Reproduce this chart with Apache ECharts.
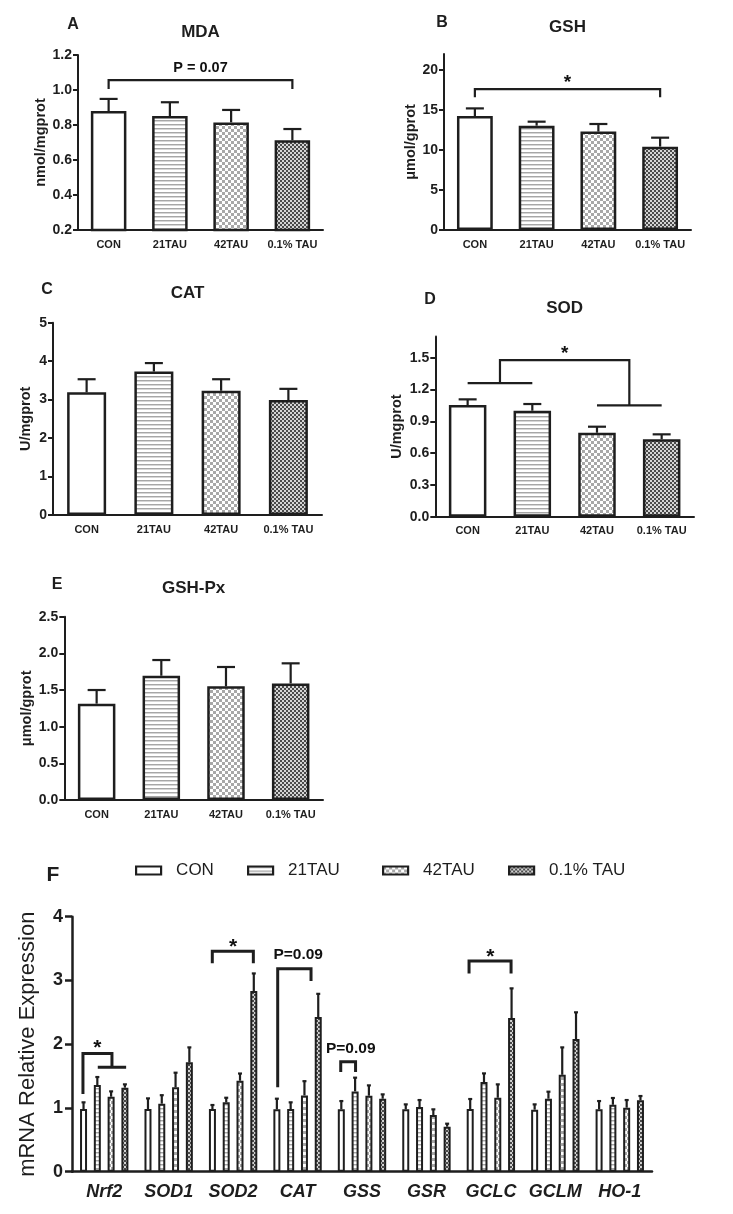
<!DOCTYPE html>
<html><head><meta charset="utf-8">
<script src="https://cdn.jsdelivr.net/npm/echarts@6/dist/echarts.min.js"></script>
<style>html,body{margin:0;padding:0;background:#fff}#c{width:733px;height:1214px}</style>
</head><body><div id="c"></div>
<script>
// ---------- data ----------
const groups = ['CON', '21TAU', '42TAU', '0.1% TAU'];

const mdaMean  = [0.880, 0.851, 0.815, 0.713];
const mdaUpper = [0.949, 0.930, 0.886, 0.777];
const gshMean  = [14.25, 13.04, 12.30, 10.42];
const gshUpper = [15.20, 13.54, 13.25, 11.54];
const catMean  = [3.19, 3.73, 3.23, 2.99];
const catUpper = [3.53, 3.95, 3.53, 3.28];
const sodMean  = [1.053, 1.000, 0.792, 0.730];
const sodUpper = [1.107, 1.063, 0.849, 0.777];
const gpxMean  = [1.314, 1.695, 1.550, 1.590];
const gpxUpper = [1.500, 1.909, 1.814, 1.864];

const genes = ['Nrf2', 'SOD1', 'SOD2', 'CAT', 'GSS', 'GSR', 'GCLC', 'GCLM', 'HO-1'];
const conMean    = [0.983, 0.983, 0.983, 0.978, 0.978, 0.978, 0.983, 0.973, 0.978];
const conUpper   = [1.088, 1.150, 1.046, 1.145, 1.108, 1.056, 1.140, 1.056, 1.108];
const tau21Mean  = [1.360, 1.067, 1.088, 0.983, 1.260, 1.014, 1.407, 1.145, 1.050];
const tau21Upper = [1.485, 1.200, 1.160, 1.088, 1.475, 1.124, 1.542, 1.255, 1.156];
const tau42Mean  = [1.176, 1.323, 1.427, 1.197, 1.192, 0.889, 1.160, 1.520, 1.004];
const tau42Upper = [1.260, 1.553, 1.540, 1.420, 1.354, 0.978, 1.370, 1.950, 1.124];
const tau01Mean  = [1.318, 1.715, 2.834, 2.426, 1.145, 0.706, 2.410, 2.080, 1.119];
const tau01Upper = [1.370, 1.950, 3.110, 2.790, 1.213, 0.753, 2.876, 2.500, 1.187];

const ticksA = [0.2, 0.4, 0.6, 0.8, 1.0, 1.2];
const ticksB = [0, 5, 10, 15, 20];
const ticksC = [0, 1, 2, 3, 4, 5];
const ticksD = [0, 0.3, 0.6, 0.9, 1.2, 1.5];
const ticksE = [0, 0.5, 1.0, 1.5, 2.0, 2.5];
const ticksF = [0, 1, 2, 3, 4];

// significance brackets (x in category index units, y in axis units)
const bracketsA = [[[0, 1.006], [0, 1.057], [3, 1.057], [3, 1.006]]];
const bracketsB = [[[0, 16.6], [0, 17.6], [3, 17.6], [3, 16.6]]];
const bracketsD = [
  [[0, 1.261], [1, 1.261]],
  [[2, 1.05], [3, 1.05]],
  [[0.5, 1.261], [0.5, 1.478], [2.5, 1.478], [2.5, 1.05]]
];
const bracketsF = [
  [[-0.33, 1.218], [-0.33, 1.856], [0.12, 1.856], [0.12, 1.637]],
  [[-0.10, 1.637], [0.34, 1.637]],
  [[1.677, 3.27], [1.677, 3.46], [2.314, 3.46], [2.314, 3.27]],
  [[2.692, 1.323], [2.692, 3.184], [3.209, 3.184], [3.209, 2.99]],
  [[3.67, 1.563], [3.67, 1.725], [3.90, 1.725], [3.90, 1.563]],
  [[5.661, 3.11], [5.661, 3.305], [6.313, 3.305], [6.313, 3.11]]
];
const notesA = [[1.5, 1.126, 'P = 0.07']];
const notesB = [[1.5, 18.96, '*']];
const notesD = [[1.5, 1.573, '*']];
const notesF = [[-0.107, 2.01, '*'], [2.0, 3.6, '*'], [3.01, 3.40, 'P=0.09'], [3.825, 1.925, 'P=0.09'], [5.99, 3.45, '*']];

// ---------- styling ----------
const INK = '#1e1e1e';
const FONT = '"Liberation Sans", Arial, Helvetica, sans-serif';

function mk(w, h, draw) {
  const c = document.createElement('canvas'); c.width = w; c.height = h;
  const g = c.getContext('2d'); g.fillStyle = '#fff'; g.fillRect(0, 0, w, h); draw(g); return c;
}
const pStripe = mk(4, 4, g => { g.fillStyle = '#a6a6a6'; g.fillRect(0, 0, 4, 1); g.fillStyle = '#d6d6d6'; g.fillRect(0, 1, 4, 1); });
const pCheck = mk(6, 6, g => { g.fillStyle = '#a8a8a8'; g.fillRect(0, 0, 3, 3); g.fillRect(3, 3, 3, 3); });
const pFine = mk(4, 4, g => { g.fillStyle = '#d4d4d4'; g.fillRect(0, 0, 4, 4); g.fillStyle = '#4a4a4a'; g.fillRect(0, 0, 2, 2); g.fillRect(2, 2, 2, 2); });
const fills = ['#ffffff', { image: pStripe, repeat: 'repeat' }, { image: pCheck, repeat: 'repeat' }, { image: pFine, repeat: 'repeat' }];

const panels = [
  { letter: 'A', title: 'MDA', yName: 'nmol/mgprot', mean: mdaMean, upper: mdaUpper, ticks: ticksA, min: 0.2, max: 1.2, dec: 1,
    grid: { left: 78, top: 55, width: 245, height: 175 }, nameGap: 28, letterPos: [73, 25], titleY: 32, brackets: bracketsA, notes: notesA },
  { letter: 'B', title: 'GSH', yName: 'μmol/gprot', mean: gshMean, upper: gshUpper, ticks: ticksB, min: 0, max: 22, dec: 0,
    grid: { left: 444, top: 54, width: 247, height: 176 }, nameGap: 26, letterPos: [442, 23], titleY: 27, brackets: bracketsB, notes: notesB },
  { letter: 'C', title: 'CAT', yName: 'U/mgprot', mean: catMean, upper: catUpper, ticks: ticksC, min: 0, max: 5, dec: 0,
    grid: { left: 53, top: 322.7, width: 269, height: 192.3 }, nameGap: 20, letterPos: [47, 290], titleY: 293, brackets: [], notes: [] },
  { letter: 'D', title: 'SOD', yName: 'U/mgprot', mean: sodMean, upper: sodUpper, ticks: ticksD, min: 0, max: 1.7, dec: 1,
    grid: { left: 435.3, top: 336.5, width: 258.7, height: 180.2 }, nameGap: 31, letterPos: [430, 300], titleY: 308, brackets: bracketsD, notes: notesD },
  { letter: 'E', title: 'GSH-Px', yName: 'μmol/gprot', mean: gpxMean, upper: gpxUpper, ticks: ticksE, min: 0, max: 2.5, dec: 1,
    grid: { left: 64.3, top: 616.7, width: 258.7, height: 183.3 }, nameGap: 30, letterPos: [57, 585], titleY: 588, brackets: [], notes: [] }
];

const grids = [], xAxes = [], yAxes = [], series = [], graphics = [], legends = [];

function txt(str, x, y, font) {
  return { type: 'text', x: x, y: y, silent: true,
    style: { text: str, font: font, fill: INK, align: 'center', verticalAlign: 'middle', textAlign: 'center', textVerticalAlign: 'middle' } };
}
function errBars(catIdx, yIdx, mean, upper, capHalf, lw, pxOffset) {
  return {
    type: 'custom', xAxisIndex: catIdx, yAxisIndex: yIdx, silent: true, z: 3,
    data: mean.map((m, i) => [i, m, upper[i]]),
    encode: { x: 0, y: [1, 2] },
    renderItem: function (params, api) {
      const i = api.value(0);
      const p0 = api.coord([i, api.value(1)]);
      const p1 = api.coord([i, api.value(2)]);
      const x = p0[0] + pxOffset;
      return { type: 'group', children: [
        { type: 'line', shape: { x1: x, y1: p0[1], x2: x, y2: p1[1] }, style: { stroke: INK, lineWidth: lw } },
        { type: 'line', shape: { x1: x - capHalf, y1: p1[1], x2: x + capHalf, y2: p1[1] }, style: { stroke: INK, lineWidth: lw } }
      ] };
    }
  };
}
function addBrackets(vx, yi, brackets, lw) {
  brackets.forEach(b => series.push({ type: 'line', xAxisIndex: vx, yAxisIndex: yi, data: b, symbol: 'none', silent: true, z: 4,
    lineStyle: { color: INK, width: lw, cap: 'butt', join: 'miter', opacity: 1 } }));
}
function addNotes(vx, yi, notes, starSize, pSize) {
  notes.forEach(n => {
    const star = n[2] === '*';
    series.push({ type: 'scatter', xAxisIndex: vx, yAxisIndex: yi, data: [[n[0], n[1]]], symbolSize: 1, silent: true, z: 5,
      itemStyle: { color: 'rgba(255,255,255,0)', opacity: 1 },
      label: { show: true, position: 'inside', formatter: n[2], color: '#111111', opacity: 1, fontFamily: FONT, fontWeight: 'bold',
        fontSize: star ? starSize : pSize, offset: star ? [0, Math.round(starSize * 0.22)] : [0, 0] } });
  });
}

panels.forEach(p => {
  grids.push(Object.assign({ containLabel: false, outerBoundsMode: 'none' }, p.grid));
  const gi = grids.length - 1;
  xAxes.push({ type: 'category', gridIndex: gi, data: groups,
    axisLine: { show: true, onZero: false, lineStyle: { color: INK, width: 2 } }, axisTick: { show: false },
    axisLabel: { interval: 0, color: INK, fontWeight: 'bold', fontSize: 11, fontFamily: FONT, margin: 9 }, splitLine: { show: false } });
  const cx = xAxes.length - 1;
  xAxes.push({ type: 'value', gridIndex: gi, min: -0.5, max: 3.5, show: false, splitLine: { show: false } });
  const vx = xAxes.length - 1;
  yAxes.push({ type: 'value', gridIndex: gi, min: p.min, max: p.max,
    name: p.yName, nameLocation: 'middle', nameRotate: 90, nameGap: p.nameGap,
    nameTextStyle: { color: INK, fontWeight: 'bold', fontSize: 14.5, fontFamily: FONT },
    axisLine: { show: true, onZero: false, lineStyle: { color: INK, width: 2 } },
    axisTick: { show: true, length: 5, customValues: p.ticks, lineStyle: { color: INK, width: 2 } },
    axisLabel: { customValues: p.ticks, formatter: v => Number(v).toFixed(p.dec), color: INK, fontWeight: 'bold', fontSize: 14, fontFamily: FONT, margin: 6 },
    splitLine: { show: false } });
  const yi = yAxes.length - 1;
  series.push({ type: 'bar', name: 'panel' + p.letter, xAxisIndex: cx, yAxisIndex: yi, barWidth: '58%', silent: true, z: 2,
    itemStyle: { borderColor: INK, borderWidth: 2.5, opacity: 1 },
    data: p.mean.map((v, i) => ({ value: v, itemStyle: { color: fills[i] } })) });
  series.push(errBars(cx, yi, p.mean, p.upper, 9, 2.2, 0));
  addBrackets(vx, yi, p.brackets, 2.2);
  addNotes(vx, yi, p.notes, 19, 14.5);
  const cxp = p.grid.left + p.grid.width / 2;
  graphics.push(txt(p.title, cxp, p.titleY, 'bold 17px ' + FONT));
  graphics.push(txt(p.letter, p.letterPos[0], p.letterPos[1], 'bold 16px ' + FONT));
});

// ---------- panel F ----------
grids.push({ left: 72, top: 916.7, width: 580, height: 255, containLabel: false, outerBoundsMode: 'none' });
const gF = grids.length - 1;
xAxes.push({ type: 'category', gridIndex: gF, data: genes,
  axisLine: { show: true, onZero: false, lineStyle: { color: INK, width: 2.5 } }, axisTick: { show: false },
  axisLabel: { interval: 0, color: INK, fontWeight: 'bold', fontStyle: 'italic', fontSize: 18, fontFamily: FONT, margin: 11 }, splitLine: { show: false } });
const cF = xAxes.length - 1;
xAxes.push({ type: 'value', gridIndex: gF, min: -0.5, max: 8.5, show: false, splitLine: { show: false } });
const vF = xAxes.length - 1;
yAxes.push({ type: 'value', gridIndex: gF, min: 0, max: 4, interval: 1,
  name: 'mRNA Relative Expression', nameLocation: 'middle', nameRotate: 90, nameGap: 33,
  nameTextStyle: { color: INK, fontWeight: 'normal', fontSize: 22, fontFamily: FONT },
  axisLine: { show: true, onZero: false, lineStyle: { color: INK, width: 2.5 } },
  axisTick: { show: true, length: 7, customValues: ticksF, lineStyle: { color: INK, width: 2.5 } },
  axisLabel: { customValues: ticksF, color: INK, fontWeight: 'bold', fontSize: 18, fontFamily: FONT, margin: 9 },
  splitLine: { show: false } });
const yF = yAxes.length - 1;

const fMeans = [conMean, tau21Mean, tau42Mean, tau01Mean];
const fUppers = [conUpper, tau21Upper, tau42Upper, tau01Upper];
const fBarW = 7, fGap = 0.97;
groups.forEach((g, k) => {
  series.push({ type: 'bar', name: g, xAxisIndex: cF, yAxisIndex: yF, barWidth: fBarW, barGap: (fGap * 100) + '%', silent: true, z: 2,
    itemStyle: { color: fills[k], borderColor: INK, borderWidth: 2, opacity: 1 }, data: fMeans[k] });
});
groups.forEach((g, k) => {
  series.push(errBars(cF, yF, fMeans[k], fUppers[k], 2, 2.2, (k - 1.5) * fBarW * (1 + fGap)));
});
addBrackets(vF, yF, bracketsF, 3);
addNotes(vF, yF, notesF, 21, 15.5);
graphics.push(txt('F', 53, 875, 'bold 21px ' + FONT));

const legendLeft = [135, 247, 382, 508];
groups.forEach((g, k) => {
  legends.push({ data: [g], left: legendLeft[k], top: 862, padding: 0, icon: 'rect', itemWidth: 25, itemHeight: 8,
    selectedMode: false, itemStyle: { borderColor: INK, borderWidth: 2.2 },
    textStyle: { color: INK, fontSize: 17, fontFamily: FONT, padding: [0, 0, 0, 10] } });
});

const chart = echarts.init(document.getElementById('c'), null, { renderer: 'canvas' });
chart.setOption({
  backgroundColor: '#ffffff',
  animation: false,
  textStyle: { fontFamily: FONT },
  grid: grids, xAxis: xAxes, yAxis: yAxes, series: series, legend: legends, graphic: graphics
});
</script></body></html>
